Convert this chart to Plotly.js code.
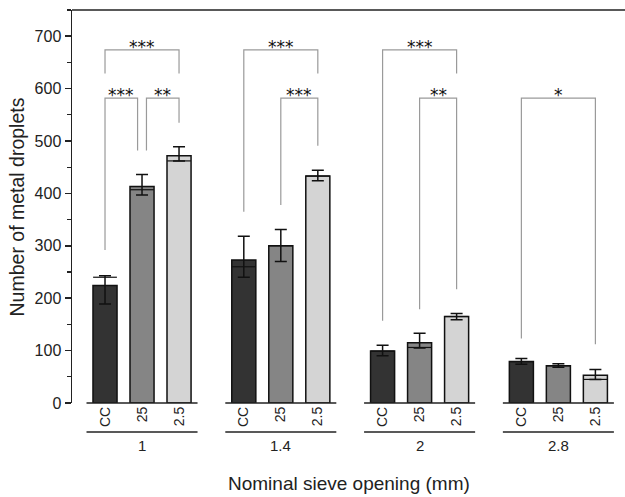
<!DOCTYPE html>
<html>
<head>
<meta charset="utf-8">
<script src="https://cdn.plot.ly/plotly-3.0.1.min.js"></script>
<style>html,body{margin:0;padding:0;background:#fff;}#chart{width:625px;height:497px;}</style>
</head>
<body>
<div id="chart"></div>
<script>
// ---- data ----
const groups = ['1', '1.4', '2', '2.8'];
const treatments = ['CC', '25', '2.5'];
const meanCC = [224, 273, 99, 79];
const mean25 = [413, 300, 115, 71];
const mean2_5 = [472, 433, 165, 53];
const errPlusCC = [19, 45, 11, 6];
const errPlus25 = [23, 31, 18, 4];
const errPlus2_5 = [17, 11, 6, 11];
const errMinusCC = [35, 33, 9, 5];
const errMinus25 = [16, 30, 10, 3];
const errMinus2_5 = [10, 9, 6, 8];
// second horizontal marker seen across each bar
const refCC = [240, 260, 99, 79];
const ref25 = [407, 300, 106, 71];
const ref2_5 = [462, 433, 165, 45];
// significance brackets
const bracketGroup = [0, 0, 0, 1, 1, 2, 2, 3];
const bracketFrom = [0, 0, 1, 0, 1, 0, 1, 0];
const bracketTo = [2, 1, 2, 2, 2, 2, 2, 2];
const bracketY = [674, 582, 582, 674, 582, 674, 582, 582];
const legFromY = [629, 292, 482, 365, 378, 157, 179, 123];
const legToY = [629, 482, 535, 629, 491, 629, 217, 112];
const bracketLabel = ['***', '***', '**', '***', '***', '***', '**', '*'];

// ---- layout constants ----
const GROUP_STEP = 3.75;
const BAR_W = 0.65;
const XR = [-0.892, 14.05];
const FONT = 'Arial, "Liberation Sans", sans-serif';
const pos = (g, i) => g * GROUP_STEP + i;
const px = v => (v - XR[0]) / (XR[1] - XR[0]);

const means = [meanCC, mean25, mean2_5];
const ep = [errPlusCC, errPlus25, errPlus2_5];
const em = [errMinusCC, errMinus25, errMinus2_5];
const refs = [refCC, ref25, ref2_5];
const colors = ['#333333', '#858585', '#d4d4d4'];

const traces = [];
treatments.forEach((t, i) => {
  traces.push({
    type: 'bar', name: t,
    x: groups.map((g, gi) => pos(gi, i)),
    y: means[i],
    width: BAR_W,
    marker: {color: colors[i], line: {color: '#111', width: 1.5}},
    error_y: {type: 'data', symmetric: false, array: ep[i], arrayminus: em[i],
              color: '#111', thickness: 1.5, width: 6},
    hoverinfo: 'skip', showlegend: false
  });
});
treatments.forEach((t, i) => {
  traces.push({
    type: 'scatter', mode: 'markers',
    x: groups.map((g, gi) => pos(gi, i)),
    y: refs[i],
    marker: {symbol: 'line-ew', size: 17, line: {color: '#111', width: 1.2}},
    hoverinfo: 'skip', showlegend: false
  });
});

const annotations = [];
const INSET = 0.12;
bracketGroup.forEach((g, k) => {
  let a = pos(g, bracketFrom[k]), b = pos(g, bracketTo[k]);
  bracketGroup.forEach((g2, j) => {
    if (j === k || g2 !== g || bracketY[j] !== bracketY[k]) return;
    if (bracketTo[j] === bracketFrom[k]) a += INSET;
    if (bracketFrom[j] === bracketTo[k]) b -= INSET;
  });
  traces.push({
    type: 'scatter', mode: 'lines',
    x: [a, a, b, b], y: [legFromY[k], bracketY[k], bracketY[k], legToY[k]],
    line: {color: '#9a9a9a', width: 1.2},
    hoverinfo: 'skip', showlegend: false
  });
  annotations.push({
    x: (a + b) / 2, y: bracketY[k], xref: 'x', yref: 'y',
    text: bracketLabel[k], showarrow: false, yanchor: 'bottom', yshift: -9,
    font: {family: '"DejaVu Sans", sans-serif', size: 17, color: '#111'}
  });
});

const shapes = [];
groups.forEach((g, gi) => {
  const x0 = px(pos(gi, 0) - 0.5), x1 = px(pos(gi, 2) + 0.5);
  shapes.push({type: 'line', xref: 'paper', yref: 'paper', x0: x0, x1: x1, y0: 0, y1: 0,
               line: {color: '#222', width: 1.5}});
  shapes.push({type: 'line', xref: 'paper', yref: 'paper', x0: x0, x1: x1, y0: -0.0738, y1: -0.0738,
               line: {color: '#222', width: 1.5}});
  annotations.push({x: pos(gi, 1), y: -0.109, xref: 'x', yref: 'paper', text: g,
                    showarrow: false, yanchor: 'middle',
                    font: {family: FONT, size: 15, color: '#222'}});
});
shapes.push({type: 'line', xref: 'paper', yref: 'paper', x0: 0, x1: 1, y0: 1, y1: 1,
             line: {color: '#222', width: 1.5}});

annotations.push({x: 0.5, y: -0.206, xref: 'paper', yref: 'paper', text: 'Nominal sieve opening (mm)',
                  showarrow: false, yanchor: 'middle', font: {family: FONT, size: 19, color: '#222'}});
annotations.push({x: -0.0995, y: 0.5, xref: 'paper', yref: 'paper', text: 'Number of metal droplets',
                  textangle: -90, showarrow: false, xanchor: 'center', yanchor: 'middle',
                  font: {family: FONT, size: 19.5, color: '#222'}});

const tickvals = [], ticktext = [];
groups.forEach((g, gi) => treatments.forEach((t, i) => { tickvals.push(pos(gi, i)); ticktext.push(t); }));

const layout = {
  width: 625, height: 497,
  margin: {l: 72, r: 0, t: 10, b: 94},
  paper_bgcolor: '#fff', plot_bgcolor: '#fff',
  barmode: 'overlay',
  showlegend: false,
  font: {family: FONT, color: '#222'},
  xaxis: {range: XR, showline: false, showgrid: false, zeroline: false, ticks: '',
          tickmode: 'array', tickvals: tickvals, ticktext: ticktext, tickangle: -90,
          tickfont: {family: FONT, size: 14, color: '#222'}, fixedrange: true},
  yaxis: {range: [0, 750], dtick: 100, tick0: 0, showline: true, linecolor: '#222', linewidth: 1.5,
          ticks: 'outside', ticklen: 6, tickwidth: 1.5, tickcolor: '#222',
          showgrid: false, zeroline: false,
          minor: {dtick: 50, tick0: 0, ticks: 'outside', ticklen: 4, tickwidth: 1.2, tickcolor: '#222', showgrid: false},
          tickfont: {family: FONT, size: 16, color: '#222'}, fixedrange: true},
  shapes: shapes,
  annotations: annotations
};

Plotly.newPlot('chart', traces, layout, {staticPlot: true, displayModeBar: false});
</script>
</body>
</html>
